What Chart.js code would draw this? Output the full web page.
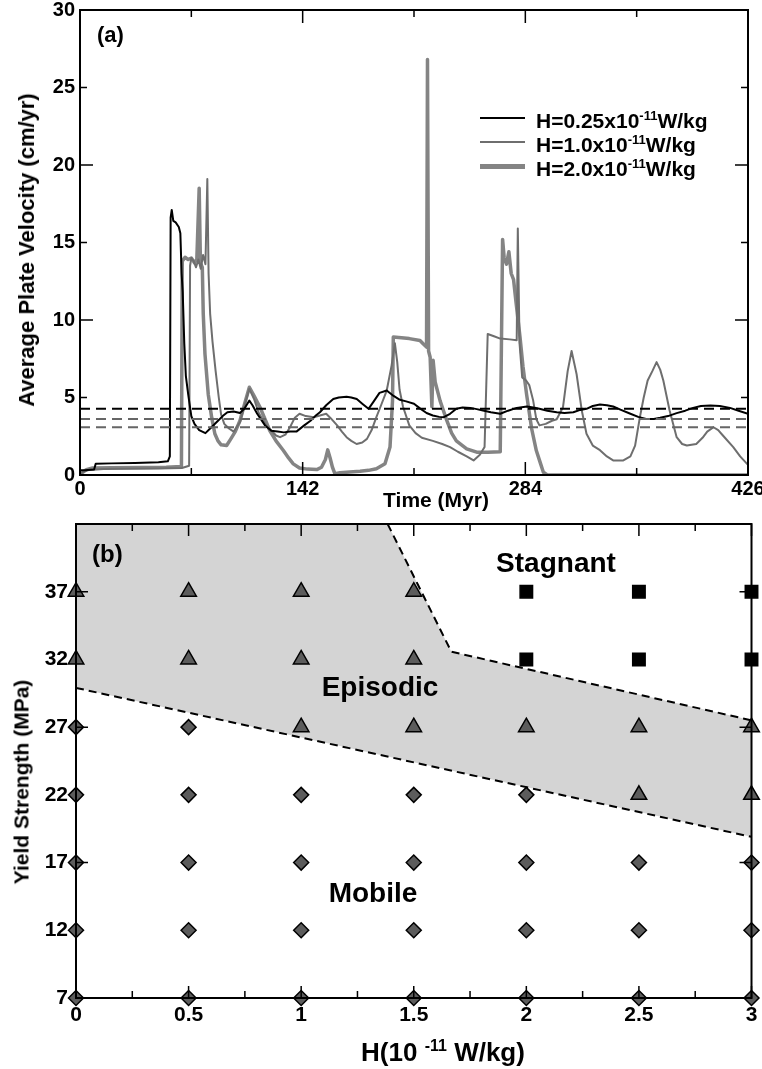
<!DOCTYPE html>
<html>
<head>
<meta charset="utf-8">
<title>Plate velocity and regime diagram</title>
<script src="https://cdn.jsdelivr.net/npm/chart.js@4.4.1/dist/chart.umd.min.js"></script>
<style>
  body { margin: 0; background: #fff; }
  #page { position: relative; width: 762px; height: 1069px; overflow: hidden;
          font-family: 'Liberation Sans', Arial, sans-serif; font-weight: bold; color: #000; }
  .panel { position: absolute; left: 0; width: 762px; }
  .txt { position: absolute; white-space: nowrap; line-height: 1; }
  .vtitle { position: absolute; white-space: nowrap; line-height: 1;
            transform: translate(-50%, -50%) rotate(-90deg); }
  .center { transform: translateX(-50%); }
  .legend-row { position: absolute; left: 480px; width: 260px; height: 24px; }
  .legend-swatch { position: absolute; left: 0; width: 45px; }
  .legend-text { position: absolute; left: 56px; top: 0; font-size: 21px; line-height: 1; white-space: nowrap; }
  .legend-text sup { font-size: 13px; vertical-align: 8px; line-height: 0; }
  .xtitle sup { font-size: 16px; vertical-align: 10px; line-height: 0; }
</style>
</head>
<body>
<div id="page">
  <div class="panel" style="top:0;height:500px"><canvas id="velocityChart"></canvas></div>
  <div class="panel" style="top:500px;height:569px"><canvas id="regimeChart"></canvas></div>

  <div class="txt" style="left:97px;top:24px;font-size:22px">(a)</div>
  <div class="vtitle" style="left:27px;top:250px;font-size:22px">Average Plate Velocity (cm/yr)</div>
  <div class="txt center" style="left:436px;top:489px;font-size:21px">Time (Myr)</div>
  <div id="legend"></div>

  <div class="txt" style="left:92px;top:542px;font-size:24px">(b)</div>
  <div class="txt center" style="left:556px;top:549px;font-size:28px">Stagnant</div>
  <div class="txt center" style="left:380px;top:673px;font-size:28px">Episodic</div>
  <div class="txt center" style="left:373px;top:879px;font-size:28px">Mobile</div>
  <div class="vtitle" style="left:21px;top:782px;font-size:21px">Yield Strength (MPa)</div>
  <div class="txt center xtitle" style="left:443px;top:1039px;font-size:26px">H(10 <sup>-11</sup> W/kg)</div>
</div>

<script>
// ---- panel (a): average plate velocity vs time, three heating rates ----
const timeLow = [0, 3, 9, 10, 20, 35, 50, 56, 57.3, 57.8, 58.5, 59.5, 61, 63, 64, 64.8, 65.5, 66.5, 67.5, 69,
  71, 73, 76, 80, 84, 88, 91, 94, 98, 102, 105, 108, 110, 113, 118, 122, 126, 130, 134, 138,
  143, 147, 150, 153, 157, 161.5, 165, 170, 173, 176.5, 180, 184, 187, 191, 195.6, 200, 204, 208, 213, 216.8,
  221, 225, 229, 232, 236, 240, 244, 249, 253, 257, 262, 268, 273, 278.5, 285, 289, 293, 298, 304, 309,
  314.6, 319, 323, 327, 331.6, 336, 340, 345, 351, 356, 361, 366, 370, 375, 380.5, 386, 391, 396, 402, 408,
  414.5, 420, 426];
const velLow = [0.3, 0.3, 0.35, 0.72, 0.75, 0.78, 0.82, 0.88, 1.2, 16.6, 17.1, 16.4, 16.3, 16.0, 15.6, 13.0, 11.8, 8.5, 6.4, 5.2,
  3.8, 3.3, 2.9, 2.7, 3.1, 3.5, 3.8, 4.05, 4.1, 4.0, 4.3, 4.8, 4.5, 3.95, 3.2, 2.85, 2.8, 2.75, 2.8, 2.8,
  3.2, 3.5, 3.8, 4.05, 4.5, 4.9, 5.0, 5.05, 5.0, 4.9, 4.6, 4.27, 4.7, 5.3, 5.45, 5.1, 4.85, 4.75, 4.6, 4.3,
  4.0, 3.84, 3.75, 3.73, 3.95, 4.27, 4.35, 4.33, 4.25, 4.16, 4.05, 3.95, 4.15, 4.33, 4.42, 4.35, 4.27, 4.15, 4.05, 4.0,
  4.05, 4.2, 4.27, 4.45, 4.55, 4.5, 4.42, 4.2, 3.95, 3.75, 3.62, 3.62, 3.69, 3.8, 3.99, 4.15, 4.33, 4.45, 4.48, 4.45,
  4.33, 4.15, 3.95];

const timeMid = [0, 2, 6, 15, 30, 50, 65, 69.6, 70.2, 71, 72.5, 74, 75.5, 77, 78.5, 80, 81.2, 82, 83, 84.5,
  86.5, 88.5, 90, 92, 95, 98, 102, 105, 108, 111, 114, 118, 122, 125, 127.6, 131, 134, 137, 140, 144,
  149, 153, 157, 160, 164, 167, 170, 173, 176.4, 180, 183, 186, 189, 192, 195.6, 198.7, 200.8, 202.3, 203.8, 206,
  210, 214, 218, 225, 231, 236, 241, 246.6, 251, 255, 258, 260, 264, 268, 274, 278.5, 279.2, 280.3, 282, 284.5,
  286.5, 289, 291, 293, 297, 301, 304, 308, 311, 313.5, 316.7, 320, 323, 327, 331.6, 336, 340, 346.5, 351, 354,
  357, 359.5, 362, 365, 367.7, 370, 372, 376, 380.5, 384, 387, 393, 397, 400, 404, 407, 410, 416.6, 421, 426];
const velMid = [0.05, 0.2, 0.33, 0.38, 0.4, 0.42, 0.45, 0.6, 13.5, 14.0, 13.8, 13.4, 13.9, 13.3, 14.2, 13.6, 19.1, 13.0, 10.4, 8.6,
  6.7, 5.0, 3.9, 3.3, 3.0, 2.8, 3.4, 4.5, 5.56, 4.9, 4.0, 3.3, 2.87, 2.55, 2.44, 2.6, 3.1, 3.7, 3.95, 3.8,
  3.73, 3.84, 3.95, 3.65, 3.2, 2.8, 2.44, 2.2, 2.0, 2.1, 2.33, 2.9, 3.73, 4.5, 5.45, 7.06, 8.5, 7.3, 5.5, 4.4,
  3.2, 2.7, 2.4, 2.2, 2.0, 1.8, 1.5, 1.2, 0.94, 1.3, 1.8, 9.1, 8.95, 8.8, 8.75, 8.7, 15.9, 8.5, 6.3, 6.1,
  5.8, 4.8, 3.6, 3.2, 3.3, 3.5, 3.6, 4.37, 6.7, 8.0, 6.5, 4.16, 2.66, 1.9, 1.6, 1.2, 0.94, 0.94, 1.2, 1.9,
  3.7, 5.0, 6.1, 6.7, 7.28, 6.8, 6.1, 4.16, 2.44, 2.0, 1.9, 2.0, 2.4, 2.8, 3.08, 2.9, 2.55, 1.8, 1.2, 0.65];

const timeHigh = [0, 1.5, 4, 8, 20, 40, 55, 64.7, 65.2, 67, 69, 71, 73, 74.5, 76, 76.8, 78, 78.6, 79.7, 81.8,
  84, 86, 88, 90, 93.5, 96, 99, 102, 105, 108, 111, 114.8, 118, 121, 125, 129.7, 133, 136, 140, 145,
  151, 154, 156.5, 158, 159.5, 161, 162.6, 165.8, 172, 178.6, 184, 189, 194.5, 197.7, 199.3, 199.8, 205, 210, 216.8, 219,
  221, 221.6, 222.3, 223.3, 224.4, 225.2, 226.5, 229.6, 233.9, 237, 240, 246.6, 253, 260, 268, 269.5, 270.5, 272, 273.5, 275,
  276.5, 278, 280.6, 282.5, 284.8, 288, 291, 293.5, 295.5, 298, 426];
const velHigh = [0, 0.15, 0.35, 0.45, 0.47, 0.48, 0.5, 0.55, 13.8, 14.05, 13.9, 14.0, 13.7, 13.9, 18.5, 13.7, 13.4, 10.4, 7.8, 5.2,
  3.7, 2.66, 2.2, 1.95, 1.9, 2.3, 2.8, 3.5, 4.6, 5.66, 5.1, 4.37, 3.6, 2.87, 2.2, 1.58, 1.1, 0.72, 0.45, 0.38,
  0.35, 0.5, 1.0, 1.62, 1.1, 0.5, 0.08, 0.15, 0.2, 0.24, 0.3, 0.4, 0.72, 1.8, 4.8, 8.9, 8.85, 8.8, 8.68, 8.45,
  8.25, 26.8, 8.0, 7.6, 4.4, 7.4, 6.0, 4.8, 3.52, 2.7, 2.2, 1.69, 1.47, 1.47, 1.5, 15.2, 14.0, 13.6, 14.4, 13.0,
  12.6, 11.2, 8.9, 7.0, 5.2, 3.0, 1.58, 0.8, 0.18, 0, 0];

const heatLabels = ['0.25', '1.0', '2.0'];
const meanVelocity = [4.27, 3.62, 3.08];       // time-averaged velocity per run (dashed)
const timeTicks = [0, 142, 284, 426];
const timeMinorTicks = [71, 213, 355];
const velocityTicks = [0, 5, 10, 15, 20, 25, 30];

// ---- panel (b): regime diagram ----
const heatRates = [0, 0.5, 1, 1.5, 2, 2.5, 3];
const yieldStrengths = [7, 12, 17, 22, 27, 32, 37];
// one string per heat rate, one letter per yield strength (M mobile, E episodic, S stagnant)
const regimeCodes = ['MMMMMEE', 'MMMMMEE', 'MMMMEEE', 'MMMMEEE', 'MMMMESS', 'MMMEESS', 'MMMEESS'];
const upperBoundH = [1.384, 1.667, 3];
const upperBoundY = [42, 32.57, 27.5];
const lowerBoundH = [0, 3];
const lowerBoundY = [29.9, 18.9];
const heatMinorTicks = [0.25, 0.75, 1.25, 1.75, 2.25, 2.75];
const strengthMajorTicks = [7, 17, 27, 37];

// styles
const seriesColors = ['#000000', '#6e6e6e', '#848484'];
const seriesWidths = [2, 2, 3.5];
const legendWidths = [2, 2, 5];
const dashColors = ['#000000', '#666666', '#666666'];
const FONT = "'Liberation Sans', Arial, sans-serif";

Chart.defaults.font.family = FONT;
Chart.defaults.font.weight = 'bold';
Chart.defaults.color = '#000';

const pts = (xs, ys) => xs.map((x, i) => ({ x: x, y: ys[i] }));

// Frame around the plot area with inward tick marks on all four sides
function frameMarks(m) {
    return {
        id: 'frameMarks',
        afterDraw(chart) {
            const ctx = chart.ctx;
            const a = chart.chartArea;
            const xs = chart.scales.x, ys = chart.scales.y;
            ctx.save();
            ctx.strokeStyle = '#000';
            ctx.lineWidth = 1.5;
            ctx.beginPath();
            const xMark = (v, len) => {
                const p = xs.getPixelForValue(v);
                ctx.moveTo(p, a.bottom); ctx.lineTo(p, a.bottom - len);
                ctx.moveTo(p, a.top); ctx.lineTo(p, a.top + len);
            };
            const yMark = (v, len) => {
                const p = ys.getPixelForValue(v);
                ctx.moveTo(a.left, p); ctx.lineTo(a.left + len, p);
                ctx.moveTo(a.right, p); ctx.lineTo(a.right - len, p);
            };
            m.xMajor.forEach(v => xMark(v, m.major));
            m.xMinor.forEach(v => xMark(v, m.minor));
            m.yMajor.forEach(v => yMark(v, m.major));
            m.yMinor.forEach(v => yMark(v, m.minor));
            ctx.stroke();
            ctx.lineWidth = 2;
            ctx.strokeRect(a.left, a.top, a.right - a.left, a.bottom - a.top);
            ctx.restore();
        }
    };
}

function axis(min, max, ticks, fontSize, pad, fixed) {
    return {
        type: 'linear', min: min, max: max,
        grid: { display: false, drawTicks: false },
        border: { display: false },
        ticks: { font: { size: fontSize, weight: 'bold' }, padding: pad, color: '#000', autoSkip: false, maxRotation: 0,
                 callback: v => String(v) },
        afterBuildTicks: s => { s.ticks = ticks.map(v => ({ value: v })); },
        afterFit: s => {
            if (fixed.width !== undefined) s.width = fixed.width;
            if (fixed.height !== undefined) s.height = fixed.height;
            s.paddingLeft = 0; s.paddingRight = 0; s.paddingTop = 0; s.paddingBottom = 0;
        }
    };
}

// ---- chart (a) ----
const velocitySets = [[timeLow, velLow], [timeMid, velMid], [timeHigh, velHigh]].map(([t, v], i) => ({
    label: 'H=' + heatLabels[i],
    data: pts(t, v),
    borderColor: seriesColors[i],
    borderWidth: seriesWidths[i],
    borderJoinStyle: 'round',
    pointRadius: 0,
    tension: 0,
    order: i + 1
}));
const meanSets = meanVelocity.map((v, i) => ({
    label: 'mean ' + heatLabels[i],
    data: pts([timeTicks[0], timeTicks[timeTicks.length - 1]], [v, v]),
    borderColor: dashColors[i],
    borderWidth: 2,
    borderDash: [10, 6],
    pointRadius: 0,
    order: 0
}));

new Chart(document.getElementById('velocityChart'), {
    type: 'line',
    data: { datasets: velocitySets.concat(meanSets) },
    options: {
        responsive: true, maintainAspectRatio: false, animation: false, devicePixelRatio: 1,
        layout: { padding: { top: 10, right: 14, left: 0, bottom: 0 } },
        plugins: { legend: { display: false }, tooltip: { enabled: false } },
        scales: {
            x: axis(0, 426, timeTicks, 20, 2, { height: 25 }),
            y: axis(0, 30, velocityTicks, 20, 5, { width: 80 })
        }
    },
    plugins: [frameMarks({ xMajor: timeTicks, xMinor: timeMinorTicks, yMajor: [0, 10, 20, 30], yMinor: [5, 15, 25], major: 13, minor: 7 })]
});

// legend (HTML so the exponent can be a real superscript)
const legend = document.getElementById('legend');
heatLabels.forEach((h, i) => {
    const row = document.createElement('div');
    row.className = 'legend-row';
    row.style.top = (110 + i * 24) + 'px';
    const sw = document.createElement('div');
    sw.className = 'legend-swatch';
    sw.style.top = (8 - legendWidths[i] / 2) + 'px';
    sw.style.height = legendWidths[i] + 'px';
    sw.style.background = seriesColors[i];
    const tx = document.createElement('div');
    tx.className = 'legend-text';
    tx.innerHTML = 'H=' + h + 'x10<sup>-11</sup>W/kg';
    row.appendChild(sw);
    row.appendChild(tx);
    legend.appendChild(row);
});

// ---- chart (b) ----
const yMax = 42;
const markerSets = [
    { code: 'E', style: 'triangle', radius: 9, fill: '#5c5c5c' },
    { code: 'M', style: 'rectRot', radius: 7.5, fill: '#5c5c5c' },
    { code: 'S', style: 'rect', radius: 8.8, fill: '#000000' }
].map((m, k) => {
    const data = [];
    heatRates.forEach((h, i) => {
        yieldStrengths.forEach((s, j) => {
            if (regimeCodes[i][j] === m.code) data.push({ x: h, y: s });
        });
    });
    return {
        label: m.code, data: data, showLine: false,
        pointStyle: m.style, pointRadius: m.radius, pointHoverRadius: m.radius,
        pointBackgroundColor: m.fill, pointBorderColor: '#000', pointBorderWidth: 1.5,
        clip: false, order: k
    };
});

const episodicShape = [{ x: heatRates[0], y: yMax }]
    .concat(pts(upperBoundH, upperBoundY))
    .concat(pts(lowerBoundH, lowerBoundY).reverse());

const regimeSets = markerSets.concat([
    { label: 'upper', data: pts(upperBoundH, upperBoundY), borderColor: '#000', borderWidth: 2,
      borderDash: [8, 5], pointRadius: 0, order: 5 },
    { label: 'lower', data: pts(lowerBoundH, lowerBoundY), borderColor: '#000', borderWidth: 2,
      borderDash: [8, 5], pointRadius: 0, order: 5 },
    { label: 'episodic', data: episodicShape, borderWidth: 0, borderColor: 'rgba(0,0,0,0)',
      backgroundColor: '#d4d4d4', fill: 'shape', pointRadius: 0, order: 9 }
]);

new Chart(document.getElementById('regimeChart'), {
    type: 'line',
    data: { datasets: regimeSets },
    options: {
        responsive: true, maintainAspectRatio: false, animation: false, devicePixelRatio: 1,
        layout: { padding: { top: 24, right: 10, left: 0, bottom: 0 } },
        plugins: { legend: { display: false }, tooltip: { enabled: false } },
        scales: {
            x: axis(0, 3, heatRates, 21, 5, { height: 71 }),
            y: axis(7, yMax, yieldStrengths, 21, 8, { width: 76 })
        }
    },
    plugins: [frameMarks({ xMajor: heatRates, xMinor: heatMinorTicks, yMajor: strengthMajorTicks, yMinor: [], major: 12, minor: 7 })]
});
</script>
</body>
</html>
